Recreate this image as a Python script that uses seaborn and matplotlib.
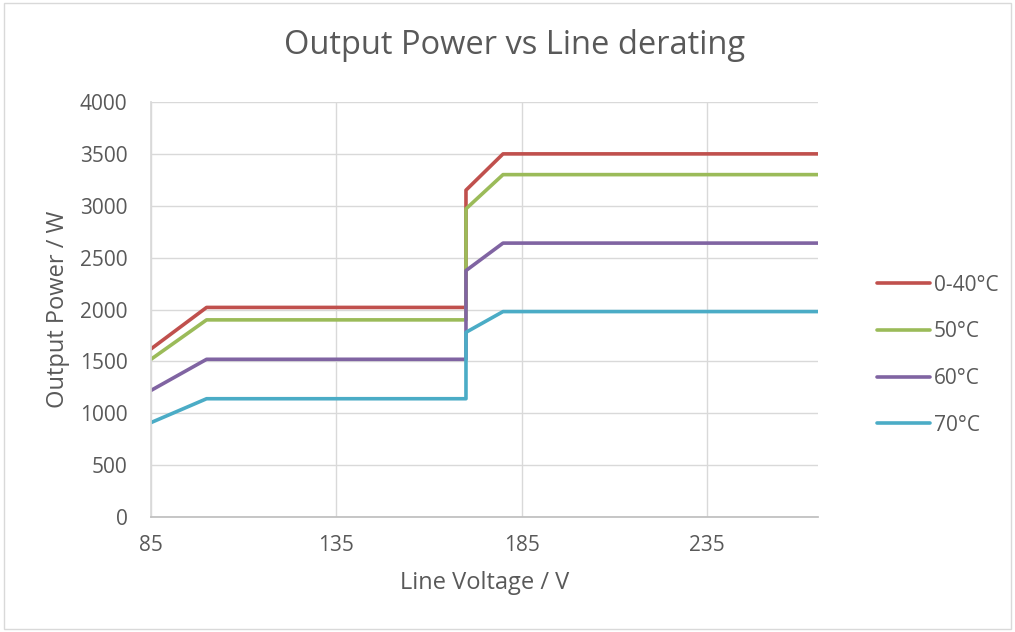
import matplotlib
matplotlib.use("Agg")
import matplotlib.pyplot as plt
import seaborn as sns
import pandas as pd
from matplotlib.patches import Rectangle

# Data
voltage = [85, 100, 170, 170, 180, 265]
p_0_40 = [1620, 2020, 2020, 3150, 3500, 3500]
p_50 = [1520, 1900, 1900, 2970, 3300, 3300]
p_60 = [1220, 1520, 1520, 2375, 2640, 2640]
p_70 = [910, 1140, 1140, 1780, 1980, 1980]
series_names = ["0-40°C", "50°C", "60°C", "70°C"]
colors = ["#C0504D", "#9BBB59", "#8064A2", "#4BACC6"]
x_ticks = [85, 135, 185, 235]
y_ticks = [0, 500, 1000, 1500, 2000, 2500, 3000, 3500, 4000]

rows = []
for name, vals in zip(series_names, [p_0_40, p_50, p_60, p_70]):
    for i, (x, y) in enumerate(zip(voltage, vals)):
        rows.append({"order": i, "Line Voltage": x, "Output Power": y, "series": name})
df = pd.DataFrame(rows)

sns.set_theme(style="white")
plt.rcParams["font.family"] = ["Open Sans", "DejaVu Sans"]
text_color = "#595959"

fig = plt.figure(figsize=(10.15, 6.32), dpi=100)
ax = fig.add_axes([151/1015, 1-517/632, (818-151)/1015, (517-102)/632])

sns.lineplot(data=df, x="Line Voltage", y="Output Power", hue="series",
             palette=colors, hue_order=series_names, sort=False,
             linewidth=2.6, ax=ax, estimator=None, units=None)

ax.set_xlim(85, 265)
ax.set_ylim(0, 4000)
ax.set_xticks(x_ticks)
ax.set_yticks(y_ticks)
ax.grid(True, color="#D9D9D9", linewidth=1.0)
ax.set_axisbelow(True)
for s in ["top", "right"]:
    ax.spines[s].set_visible(False)
ax.spines["left"].set_color("#D9D9D9")
ax.spines["bottom"].set_color("#BFBFBF")
ax.tick_params(axis="x", colors=text_color, labelsize=15, length=0, pad=13)
ax.tick_params(axis="y", colors=text_color, labelsize=15, length=0, pad=17)

ax.set_xlabel("Line Voltage / V", fontsize=17, color=text_color, labelpad=11)
ax.set_ylabel("Output Power / W", fontsize=17, color=text_color, labelpad=7)
fig.text(515/1015, 1-46/632, "Output Power vs Line derating", ha="center", va="center",
         fontsize=23.5, color=text_color)

leg = ax.legend(loc="center left", bbox_to_anchor=(1.06, 0.39), frameon=False,
                fontsize=15, labelspacing=1.23, handlelength=2.55, handletextpad=0.2,
                labelcolor=text_color)
for line in leg.get_lines():
    line.set_linewidth(2.6)

fig.patches.append(Rectangle((0.004, 0.004), 0.992, 0.992, transform=fig.transFigure,
                             fill=False, edgecolor="#D9D9D9", linewidth=1.0))

fig.savefig("out.png", dpi=100)
